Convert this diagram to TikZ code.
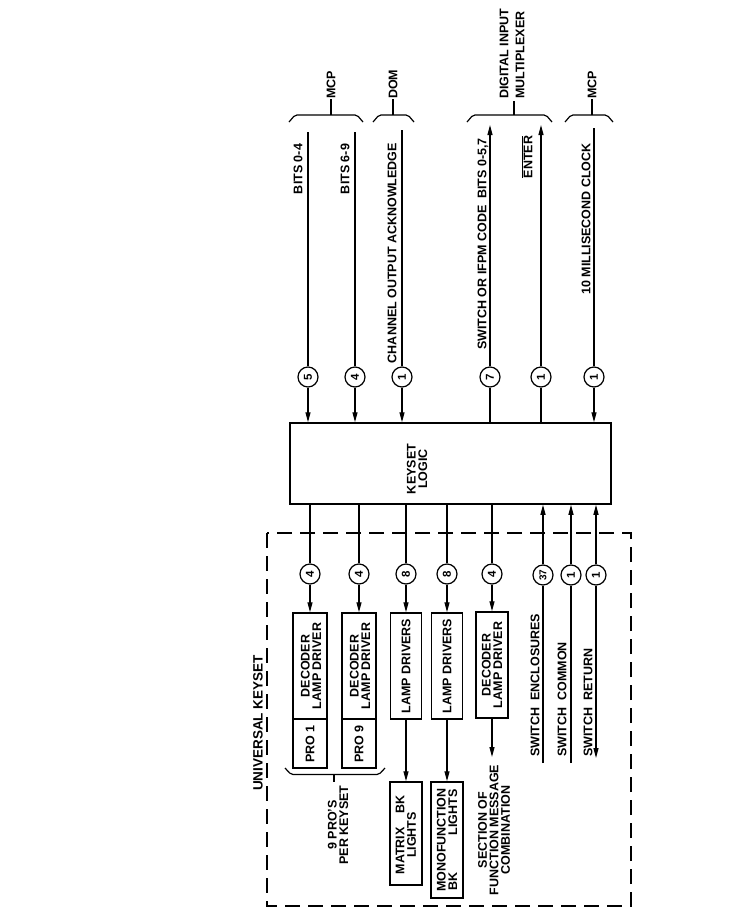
\documentclass[tikz,border=0pt]{standalone}
\usepackage{fontspec}
\setmainfont{Liberation Sans}
\usetikzlibrary{arrows.meta}
\begin{document}
\begin{tikzpicture}[x=1pt,y=-1pt,
  lbl/.style={rotate=90,inner sep=0pt,align=center,font=\fontsize{12.5}{11.5}\selectfont\bfseries},
  box/.style={draw,rectangle,line width=1.5pt,inner sep=0pt},
  num/.style={draw,circle,line width=1.2pt,minimum size=20pt,inner sep=0pt,rotate=90,font=\fontsize{11.5}{11.5}\selectfont\bfseries},
  wire/.style={line width=1.2pt},
  arr/.style={wire,-{Triangle[length=10pt,width=5pt]}},
  brace/.style={wire,rounded corners=2pt},
  frame/.style={line width=1.4pt,dash pattern=on 15pt off 8pt}]
\useasboundingbox (0,0) rectangle (738,911);

% dashed frame of the universal keyset
\draw[frame] (267,533) rectangle (631,906);
\node[lbl,font=\fontsize{13.5}{13.5}\selectfont\bfseries] (uk) at (258,723) {UNIVERSAL KEYSET};

% keyset logic
\node[box,minimum width=321pt,minimum height=81pt] (kl) at (450.5,463.5) {};
\node[lbl] (kltext) at (417,469) {KEYSET\\LOGIC};

% ---------- inputs / outputs above ----------
\coordinate (t1) at (308,132);
\coordinate (t2) at (355,132);
\coordinate (t3) at (402,130);
\coordinate (t4) at (490,125);
\coordinate (t5) at (541,125);
\coordinate (t6) at (594,128);
\node[num] (c1) at (308,377) {5};
\node[num] (c2) at (355,377) {4};
\node[num] (c3) at (402,377) {1};
\node[num] (c4) at (490,377) {7};
\node[num] (c5) at (541,377) {1};
\node[num] (c6) at (594,377) {1};
\draw[wire] (t1) -- (c1);  \draw[arr] (c1) -- (c1 |- kl.north);
\draw[wire] (t2) -- (c2);  \draw[arr] (c2) -- (c2 |- kl.north);
\draw[wire] (t3) -- (c3);  \draw[arr] (c3) -- (c3 |- kl.north);
\draw[wire] (c4 |- kl.north) -- (c4);  \draw[arr] (c4) -- (t4);
\draw[wire] (c5 |- kl.north) -- (c5);  \draw[arr] (c5) -- (t5);
\draw[wire] (t6) -- (c6);  \draw[arr] (c6) -- (c6 |- kl.north);

\node[lbl] (l1) at (298,169) {BITS 0-4};
\node[lbl] (l2) at (345,169) {BITS 6-9};
\node[lbl] (l3) at (392,253) {CHANNEL OUTPUT ACKNOWLEDGE};
\node[lbl] (l4) at (483,244) {SWITCH OR IFPM CODE\ \ BITS 0-5,7};
\node[lbl] (l5) at (527,157) {$\overline{\hbox{ENTER}}$};
\node[lbl] (l6) at (586,219) {10 MILLISECOND CLOCK};

% braces and destinations
\draw[brace] (289,122) -- (295,115) -- (357,115) -- (363,122);
\coordinate (b1) at (331,115);
\node[lbl,anchor=west] (mcp1) at (331,99) {MCP};
\draw[wire] (b1) -- (mcp1.west);

\draw[brace] (373,122) -- (379,115) -- (408,115) -- (414,122);
\coordinate (b2) at (393,115);
\node[lbl,anchor=west] (dom) at (393,99) {DOM};
\draw[wire] (b2) -- (dom.west);

\draw[brace] (467,122) -- (473,115) -- (546,115) -- (552,122);
\coordinate (b3) at (514,115);
\node[lbl,anchor=west,align=left,font=\fontsize{12.5}{16}\selectfont\bfseries] (dim) at (512,99) {DIGITAL INPUT\\MULTIPLEXER};
\draw[wire] (b3) -- (514,101);

\draw[brace] (565,122) -- (571,115) -- (607,115) -- (613,122);
\coordinate (b4) at (592,115);
\node[lbl,anchor=west] (mcp2) at (592,99) {MCP};
\draw[wire] (b4) -- (mcp2.west);

% ---------- inside the universal keyset ----------
\node[num] (d1) at (310,574) {4};
\node[num] (d2) at (359,574) {4};
\node[num] (d3) at (406,574) {8};
\node[num] (d4) at (447,574) {8};
\node[num] (d5) at (492,574) {4};
\node[num,font=\fontsize{10}{10}\selectfont\bfseries] (s1) at (543,575) {37};
\node[num] (s2) at (571,575) {1};
\node[num] (s3) at (596,575) {1};

% PRO boxes
\node[box,minimum width=34pt,minimum height=106pt] (p1d) at (310,666) {};
\node[box,minimum width=34pt,minimum height=49pt] (p1p) at (310,743.5) {};
\node[lbl] (p1dt) at (311,666) {DECODER\\LAMP DRIVER};
\node[lbl] (p1pt) at (310,744) {PRO 1};
\node[box,minimum width=34pt,minimum height=106pt] (p9d) at (359,666) {};
\node[box,minimum width=34pt,minimum height=49pt] (p9p) at (359,743.5) {};
\node[lbl] (p9dt) at (360,666) {DECODER\\LAMP DRIVER};
\node[lbl] (p9pt) at (359,744) {PRO 9};

\draw[brace] (285,768) -- (291,774.5) -- (379,774.5) -- (385,768);
\coordinate (b5) at (334,774.5);
\coordinate (b5e) at (334,782);
\draw[wire] (b5) -- (b5e);
\node[lbl] (pros) at (338,825) {9 PRO'S\\PER KEYSET};

% lamp drivers and lights
\node[box,minimum width=31pt,minimum height=106pt] (ld1) at (406,666) {};
\node[lbl] (ld1t) at (406,666) {LAMP DRIVERS};
\node[box,minimum width=32pt,minimum height=103pt] (mx) at (406,833.5) {};
\node[lbl] (mxt) at (406,835) {MATRIX\hspace{1.1em}BK\\LIGHTS};
\node[box,minimum width=32pt,minimum height=116pt] (mono) at (447,840) {};
\node[box,minimum width=31pt,minimum height=106pt] (ld2) at (447,666) {};
\node[lbl] (ld2t) at (447,666) {LAMP DRIVERS};
\node[lbl] (monot) at (447,840) {MONOFUNCTION\\BK\hspace{3.0em}LIGHTS};

% third decoder
\node[box,minimum width=32pt,minimum height=106pt] (dec) at (492,665) {};
\node[lbl] (dect) at (492,665) {DECODER\\LAMP DRIVER};
\coordinate (secend) at (492,757);
\node[lbl] (sec) at (494,830) {SECTION OF\\FUNCTION MESSAGE\\COMBINATION};

% connections from keyset logic
\draw[wire] (kl.south -| d1) -- (d1);  \draw[arr] (d1) -- (d1 |- p1d.north);
\draw[wire] (kl.south -| d2) -- (d2);  \draw[arr] (d2) -- (d2 |- p9d.north);
\draw[wire] (kl.south -| d3) -- (d3);  \draw[arr] (d3) -- (ld1);
\draw[wire] (kl.south -| d4) -- (d4);  \draw[arr] (d4) -- (ld2);
\draw[wire] (kl.south -| d5) -- (d5);  \draw[arr] (d5) -- (dec);
\draw[arr] (ld1) -- (mx);
\draw[arr] (ld2) -- (mono);
\draw[arr] (dec) -- (secend);

% switch lines
\coordinate (e1) at (543,763);
\coordinate (e2) at (571,763);
\coordinate (e3) at (596,758);
\draw[wire] (e1) -- (s1);  \draw[arr] (s1) -- (s1 |- kl.south);
\draw[wire] (e2) -- (s2);  \draw[arr] (s2) -- (s2 |- kl.south);
\draw[arr] (s3) -- (e3);   \draw[arr] (s3) -- (s3 |- kl.south);
\node[lbl,anchor=west] (sw1) at (535,757) {SWITCH\ \ ENCLOSURES};
\node[lbl,anchor=west] (sw2) at (562,757) {SWITCH\ \ COMMON};
\node[lbl,anchor=west] (sw3) at (588,757) {SWITCH\ \ RETURN};
\end{tikzpicture}
\end{document}
